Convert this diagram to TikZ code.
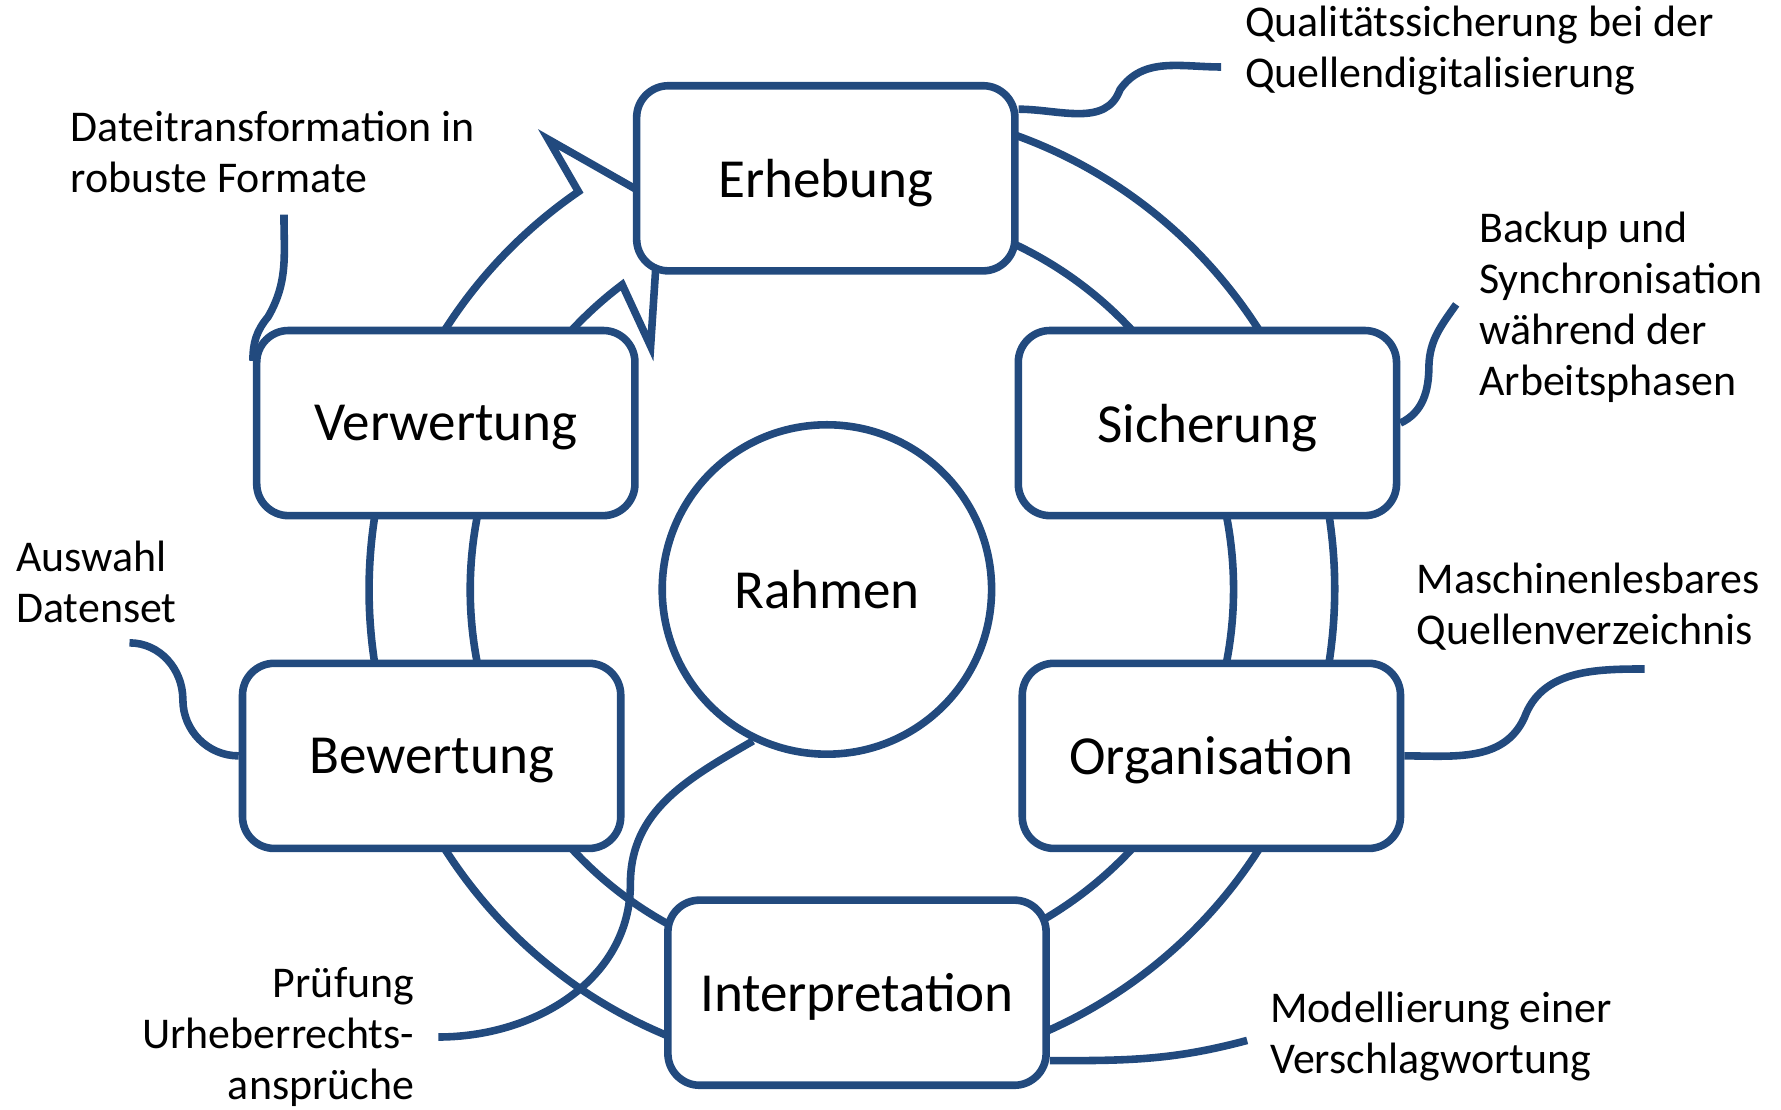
\documentclass[tikz,border=0pt]{standalone}
\usepackage{fontspec}
\setmainfont{Carlito}
\definecolor{cycleblue}{RGB}{34,74,126}

\begin{document}
\begin{tikzpicture}[line width=1.9pt,
  stage/.style={draw=cycleblue,fill=white,rounded corners=0.28cm,minimum width=3.33cm,minimum height=1.63cm,inner sep=0pt,text depth=0pt,font=\fontsize{13.8}{16.5}\selectfont},
  hub/.style={draw=cycleblue,fill=white,circle,minimum size=2.90cm,inner sep=0pt,font=\fontsize{13.8}{16.5}\selectfont},
  note/.style={inner sep=0pt,font=\fontsize{11}{12.8}\selectfont},
  ring/.style={draw=cycleblue,fill=white},
  link/.style={draw=cycleblue}]
  \useasboundingbox (0,0) rectangle (15.68,9.77);

  % ring
  \coordinate (rc) at (7.50,4.58);
  \draw[ring] ([shift={(80:4.25)}]rc) arc (80:-235.5:4.25)
    -- ([shift={(124:4.78)}]rc) -- ([shift={(116.4:3.80)}]rc)
    -- ([shift={(129.6:2.78)}]rc) -- ([shift={(127:3.36)}]rc)
    arc (-233:80:3.36) -- cycle;

  % stages
  \node[stage,at={(7.27,8.20)}] (erh) {Erhebung};
  \node[stage,at={(10.63,6.045)}] (sich) {Sicherung};
  \node[stage,at={(10.665,3.115)}] (org) {Organisation};
  \node[stage,at={(7.545,1.03)}] (interp) {Interpretation};
  \node[stage,at={(3.80,3.115)}] (bew) {Bewertung};
  \node[stage,at={(3.925,6.045)}] (verw) {Verwertung};
  \node[hub,at={(7.28,4.58)}] (rahmen) {Rahmen};

  % notes
  %labels
  \node[note,anchor=west,align=left,at={(10.93,9.325)}] (qual) {Qualitätssicherung bei der\\Quellendigitalisierung};
  \node[note,anchor=west,align=left,at={(12.99,7.065)}] (backup) {Backup und\\Synchronisation\\während der\\Arbeitsphasen};
  \node[note,anchor=west,align=left,at={(12.44,4.425)}] (masch) {Maschinenlesbares\\Quellenverzeichnis};
  \node[note,anchor=west,align=left,at={(11.15,0.645)}] (modell) {Modellierung einer\\Verschlagwortung};
  \node[note,anchor=east,align=right,at={(3.68,0.64)}] (pruef) {Prüfung\\Urheberrechts-\\ansprüche};
  \node[note,anchor=west,align=left,at={(0.11,4.645)}] (auswahl) {Auswahl\\Datenset};
  \node[note,anchor=west,align=left,at={(0.59,8.435)}] (datei) {Dateitransformation in\\robuste Formate};
  %edges
  \draw[link] ([yshift=-0.24cm]erh.north east) to[out=0,in=-110] (9.86,8.98)
    to[out=55,in=180] ([shift={(-0.18,-0.145)}]qual.west);
  \draw[link] (sich.east) to[out=25,in=-90] (12.58,6.55)
    to[out=88,in=-125] ([shift={(-0.17,0.025)}]backup.west);
  \draw[link] (org.east) to[out=0,in=-115] (13.42,3.45)
    to[out=70,in=180] ([shift={(2.04,-0.545)}]masch.west);
  \draw[link] ([yshift=0.25cm]interp.south east) to[out=0,in=195] ([shift={(-0.17,-0.035)}]modell.west);
  \draw[link] (rahmen.244) to[out=210,in=90] (5.55,1.99)
    to[out=-90,in=0] ([shift={(0.18,0)}]pruef.east);
  \draw[link] (bew.west) to[out=180,in=-90] (1.61,3.61)
    to[out=90,in=0] ([shift={(1.03,-0.535)}]auswahl.west);
  \draw[link] ([yshift=-0.3cm]verw.north west) to[out=90,in=-130] (2.36,6.98)
    to[out=60,in=-90] ([shift={(1.91,-0.555)}]datei.west);
\end{tikzpicture}
\end{document}
